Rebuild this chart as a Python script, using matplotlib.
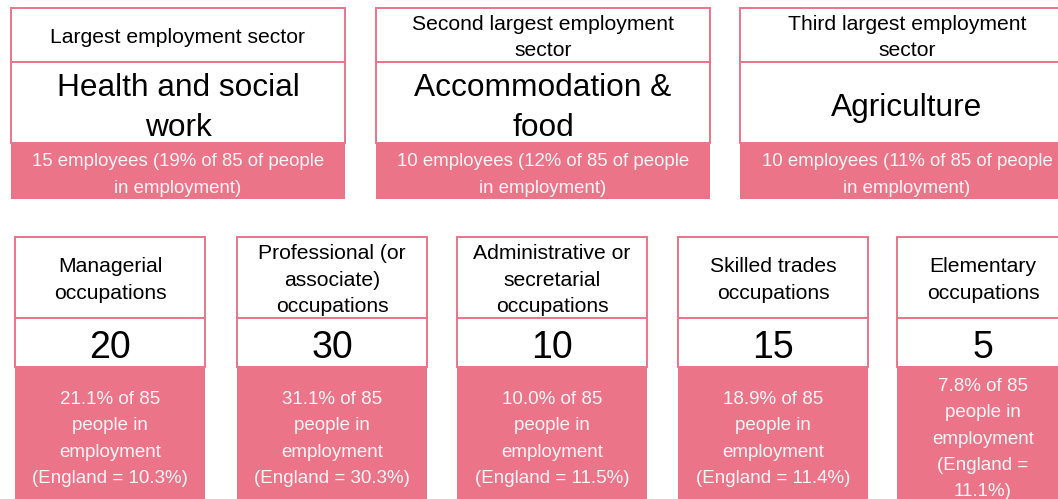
import matplotlib
matplotlib.use("Agg")
import matplotlib.pyplot as plt
from matplotlib.patches import Rectangle

plt.rcParams["font.family"] = ["Liberation Sans", "DejaVu Sans"]

PINK = "#ec7489"

# --- data -------------------------------------------------------------
total_employed = 85
top_titles = ["Largest employment sector",
              "Second largest employment\nsector",
              "Third largest employment\nsector"]
top_sectors = ["Health and social\nwork", "Accommodation &\nfood", "Agriculture"]
top_counts = [15, 10, 10]
top_pcts = [19, 12, 11]

occ_names = ["Managerial\noccupations",
             "Professional (or\nassociate)\noccupations",
             "Administrative or\nsecretarial\noccupations",
             "Skilled trades\noccupations",
             "Elementary\noccupations"]
occ_counts = [20, 30, 10, 15, 5]
occ_pcts = [21.1, 31.1, 10.0, 18.9, 7.8]
eng_pcts = [10.3, 30.3, 11.5, 11.4, 11.1]

# --- layout (pixel coords, y down) -----------------------------------
W, H = 1058, 499
fig = plt.figure(figsize=(W / 100, H / 100), dpi=100)
ax = fig.add_axes([0, 0, 1, 1])
ax.set_xlim(0, W); ax.set_ylim(H, 0); ax.axis("off")


def lines_at(x, yc, text, dy, **kw):
    parts = text.split("\n")
    y0 = yc - dy * (len(parts) - 1) / 2
    for k, s in enumerate(parts):
        ax.text(x, y0 + k * dy, s, ha="center", va="center_baseline", **kw)


def card(x0, w, y_top, y_mid, y_pink, y_bot):
    ax.add_patch(Rectangle((x0, y_pink), w, y_bot - y_pink, fc=PINK, ec="none"))
    for a, b in [(y_top, y_mid), (y_mid, y_pink)]:
        ax.add_patch(Rectangle((x0, a), w, b - a, fc="white", ec=PINK, lw=1.4))


# top row: employment sectors
top_x = [11, 376, 740]
for i in range(3):
    x0, w = top_x[i], 334
    card(x0, w, 8, 62, 143, 199)
    cx = x0 + w / 2
    lines_at(cx, 35.5, top_titles[i], 26.5, fontsize=15.2, color="black")
    lines_at(cx, 104.5, top_sectors[i], 39.5, fontsize=22.8, color="black")
    pink_txt = (f"{top_counts[i]} employees ({top_pcts[i]}% of {total_employed} "
                f"of people\nin employment)")
    lines_at(cx, 173, pink_txt, 26.5, fontsize=13.4, color="#fff6f8")

# bottom row: occupations
occ_x = [15, 237, 457, 678, 897]
occ_w = [190, 190, 190, 190, 172]
for i in range(5):
    x0, w = occ_x[i], occ_w[i]
    card(x0, w, 237, 318, 367, 510)
    cx = x0 + w / 2
    lines_at(cx, 278, occ_names[i], 26.5, fontsize=15.2, color="black")
    ax.text(cx, 343.5, str(occ_counts[i]), ha="center", va="center_baseline",
            fontsize=27, color="black")
    eng = f"(England = {eng_pcts[i]:.1f}%)"
    if w < 180:
        eng = eng.replace("= ", "=\n")
    pink_txt = (f"{occ_pcts[i]:.1f}% of {total_employed}\npeople in\n"
                f"employment\n{eng}")
    lines_at(cx, 437, pink_txt, 26.4, fontsize=13.5, color="#fff6f8")

fig.savefig("out.png", dpi=100)
